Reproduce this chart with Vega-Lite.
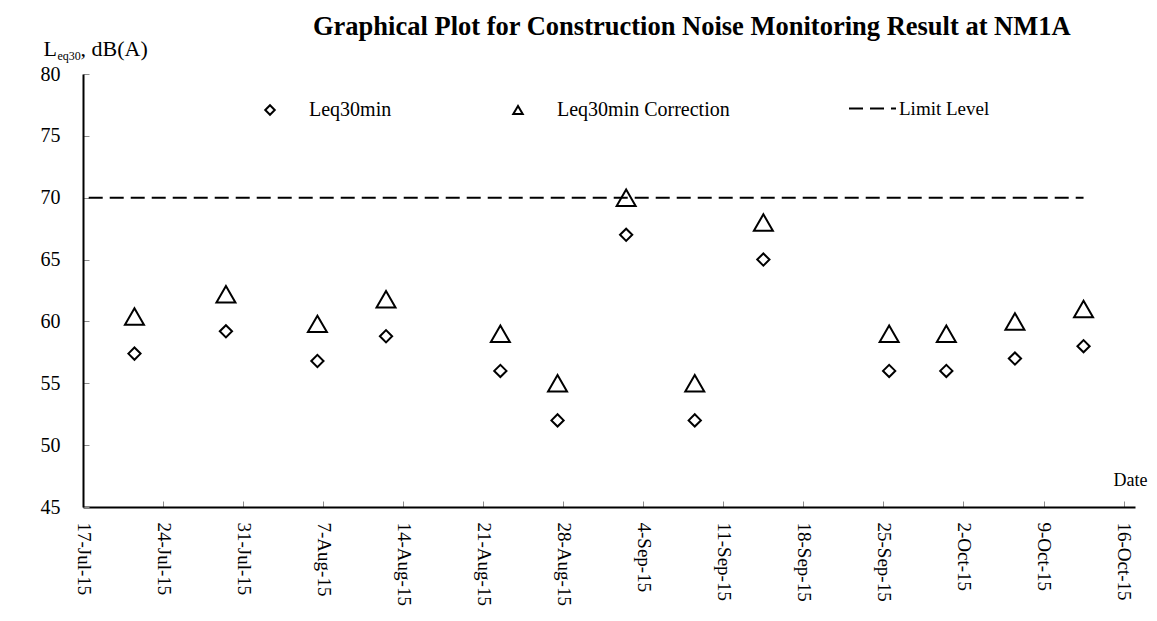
{
  "$schema": "https://vega.github.io/schema/vega-lite/v6.json",
  "width": 1052,
  "height": 433,
  "autosize": {"type": "none"},
  "padding": {"left": 83, "top": 74, "right": 22, "bottom": 114},
  "background": "white",
  "title": {
    "text": "Graphical Plot for Construction Noise Monitoring Result at NM1A",
    "font": "Liberation Serif",
    "fontSize": 26.5,
    "fontWeight": "bold",
    "color": "black",
    "anchor": "start",
    "frame": "group",
    "baseline": "alphabetic",
    "offset": 3,
    "dx": 230,
    "dy": 27
  },
  "data": {
    "values": [
      {"date": "2015-07-21", "series": "Leq30min", "value": 57.4},
      {"date": "2015-07-29", "series": "Leq30min", "value": 59.2},
      {"date": "2015-08-06", "series": "Leq30min", "value": 56.8},
      {"date": "2015-08-12", "series": "Leq30min", "value": 58.8},
      {"date": "2015-08-22", "series": "Leq30min", "value": 56.0},
      {"date": "2015-08-27", "series": "Leq30min", "value": 52.0},
      {"date": "2015-09-02", "series": "Leq30min", "value": 67.0},
      {"date": "2015-09-08", "series": "Leq30min", "value": 52.0},
      {"date": "2015-09-14", "series": "Leq30min", "value": 65.0},
      {"date": "2015-09-25", "series": "Leq30min", "value": 56.0},
      {"date": "2015-09-30", "series": "Leq30min", "value": 56.0},
      {"date": "2015-10-06", "series": "Leq30min", "value": 57.0},
      {"date": "2015-10-12", "series": "Leq30min", "value": 58.0},
      {"date": "2015-07-21", "series": "Leq30min Correction", "value": 60.4},
      {"date": "2015-07-29", "series": "Leq30min Correction", "value": 62.2},
      {"date": "2015-08-06", "series": "Leq30min Correction", "value": 59.8},
      {"date": "2015-08-12", "series": "Leq30min Correction", "value": 61.8},
      {"date": "2015-08-22", "series": "Leq30min Correction", "value": 59.0},
      {"date": "2015-08-27", "series": "Leq30min Correction", "value": 55.0},
      {"date": "2015-09-02", "series": "Leq30min Correction", "value": 70.0},
      {"date": "2015-09-08", "series": "Leq30min Correction", "value": 55.0},
      {"date": "2015-09-14", "series": "Leq30min Correction", "value": 68.0},
      {"date": "2015-09-25", "series": "Leq30min Correction", "value": 59.0},
      {"date": "2015-09-30", "series": "Leq30min Correction", "value": 59.0},
      {"date": "2015-10-06", "series": "Leq30min Correction", "value": 60.0},
      {"date": "2015-10-12", "series": "Leq30min Correction", "value": 61.0},
      {"date": "2015-07-17", "series": "Limit Level", "value": 70},
      {"date": "2015-10-12", "series": "Limit Level", "value": 70}
    ],
    "format": {"parse": {"date": "date:'%Y-%m-%d'"}}
  },
  "encoding": {
    "x": {
      "field": "date",
      "type": "temporal",
      "timeUnit": "yearmonthdate",
      "bandPosition": 0.5,
      "scale": {
        "domain": [
          {"year": 2015, "month": 7, "date": 17},
          {"year": 2015, "month": 10, "date": 17}
        ]
      },
      "axis": {
        "values": [
          {"year": 2015, "month": 7, "date": 17},
          {"year": 2015, "month": 7, "date": 24},
          {"year": 2015, "month": 7, "date": 31},
          {"year": 2015, "month": 8, "date": 7},
          {"year": 2015, "month": 8, "date": 14},
          {"year": 2015, "month": 8, "date": 21},
          {"year": 2015, "month": 8, "date": 28},
          {"year": 2015, "month": 9, "date": 4},
          {"year": 2015, "month": 9, "date": 11},
          {"year": 2015, "month": 9, "date": 18},
          {"year": 2015, "month": 9, "date": 25},
          {"year": 2015, "month": 10, "date": 2},
          {"year": 2015, "month": 10, "date": 9},
          {"year": 2015, "month": 10, "date": 16}
        ],
        "format": "%-d-%b-%y",
        "labelAngle": 90,
        "labelAlign": "left",
        "labelBaseline": "middle",
        "labelFont": "Liberation Serif",
        "labelFontSize": 19,
        "labelColor": "black",
        "labelPadding": 21,
        "labelFlush": false,
        "labelOverlap": false,
        "tickSize": -6,
        "tickColor": "#8c8c8c",
        "tickWidth": 1,
        "domainColor": "black",
        "domainWidth": 2,
        "grid": false,
        "title": "Date",
        "titleX": 1030,
        "titleY": -22,
        "titleAlign": "left",
        "titleBaseline": "alphabetic",
        "titleAngle": 0,
        "titleFont": "Liberation Serif",
        "titleFontSize": 18,
        "titleFontWeight": "normal",
        "titleColor": "black"
      }
    }
  },
  "layer": [
    {
      "transform": [{"filter": "datum.series === 'Leq30min'"}],
      "mark": {"type": "point", "filled": false, "size": 150, "strokeWidth": 2, "color": "black", "opacity": 1},
      "encoding": {
        "shape": {
          "field": "series",
          "type": "nominal",
          "scale": {"domain": ["Leq30min", "Leq30min Correction"], "range": ["diamond", "triangle-up"]},
          "legend": {
            "orient": "none",
            "legendX": 177,
            "legendY": 26,
            "direction": "horizontal",
            "title": null,
            "padding": 0,
            "labelFont": "Liberation Serif",
            "labelFontSize": 20,
            "labelColor": "black",
            "labelLimit": 0,
            "labelOffset": 29,
            "columnPadding": 116,
            "symbolSize": 90,
            "symbolStrokeWidth": 2,
            "symbolStrokeColor": "black",
            "symbolFillColor": "white"
          }
        },
        "y": {
          "field": "value",
          "type": "quantitative",
          "scale": {"domain": [45, 80], "nice": false, "zero": false},
          "axis": {
            "orient": "left",
            "values": [45, 50, 55, 60, 65, 70, 75, 80],
            "labelFont": "Liberation Serif",
            "labelFontSize": 20,
            "labelColor": "black",
            "labelPadding": 29,
            "tickSize": -6,
            "tickColor": "#8c8c8c",
            "tickWidth": 1,
            "domainColor": "black",
            "domainWidth": 2,
            "grid": false,
            "title": "L",
            "titleX": -40,
            "titleY": -19,
            "titleAngle": 0,
            "titleAlign": "left",
            "titleBaseline": "alphabetic",
            "titleFont": "Liberation Serif",
            "titleFontSize": 22,
            "titleFontWeight": "normal",
            "titleColor": "black"
          }
        }
      }
    },
    {
      "transform": [{"filter": "datum.series === 'Leq30min Correction'"}],
      "mark": {"type": "point", "filled": false, "size": 360, "strokeWidth": 2, "color": "black", "opacity": 1},
      "encoding": {
        "shape": {
          "field": "series",
          "type": "nominal",
          "scale": {"domain": ["Leq30min", "Leq30min Correction"], "range": ["diamond", "triangle-up"]}
        },
        "y": {
          "field": "value",
          "type": "quantitative",
          "scale": {"domain": [45, 80], "nice": false, "zero": false},
          "axis": {
            "orient": "left",
            "labels": false,
            "ticks": false,
            "domain": false,
            "grid": false,
            "title": "eq30",
            "titleX": -26,
            "titleY": -15,
            "titleAngle": 0,
            "titleAlign": "left",
            "titleBaseline": "alphabetic",
            "titleFont": "Liberation Serif",
            "titleFontSize": 12,
            "titleFontWeight": "normal",
            "titleColor": "black"
          }
        }
      }
    },
    {
      "transform": [{"filter": "datum.series === 'Limit Level'"}],
      "mark": {"type": "line", "strokeWidth": 2, "color": "black"},
      "encoding": {
        "strokeDash": {
          "field": "series",
          "type": "nominal",
          "scale": {"domain": ["Limit Level"], "range": [[14, 7]]},
          "legend": {
            "orient": "none",
            "legendX": 765,
            "legendY": 10,
            "title": null,
            "padding": 0,
            "labelFont": "Liberation Serif",
            "labelFontSize": 19,
            "labelColor": "black",
            "labelLimit": 0,
            "labelOffset": 2,
            "symbolType": "stroke",
            "symbolSize": 2209,
            "symbolStrokeWidth": 2,
            "symbolStrokeColor": "black",
            "encode": {
              "symbols": {"update": {"strokeDash": {"value": [9, 5]}}}
            }
          }
        },
        "y": {
          "field": "value",
          "type": "quantitative",
          "scale": {"domain": [45, 80], "nice": false, "zero": false},
          "axis": {
            "orient": "left",
            "labels": false,
            "ticks": false,
            "domain": false,
            "grid": false,
            "title": ", dB(A)",
            "titleX": -3,
            "titleY": -19,
            "titleAngle": 0,
            "titleAlign": "left",
            "titleBaseline": "alphabetic",
            "titleFont": "Liberation Serif",
            "titleFontSize": 22,
            "titleFontWeight": "normal",
            "titleColor": "black"
          }
        }
      }
    }
  ],
  "resolve": {"axis": {"y": "independent"}},
  "config": {
    "view": {"stroke": null},
    "font": "Liberation Serif"
  }
}
